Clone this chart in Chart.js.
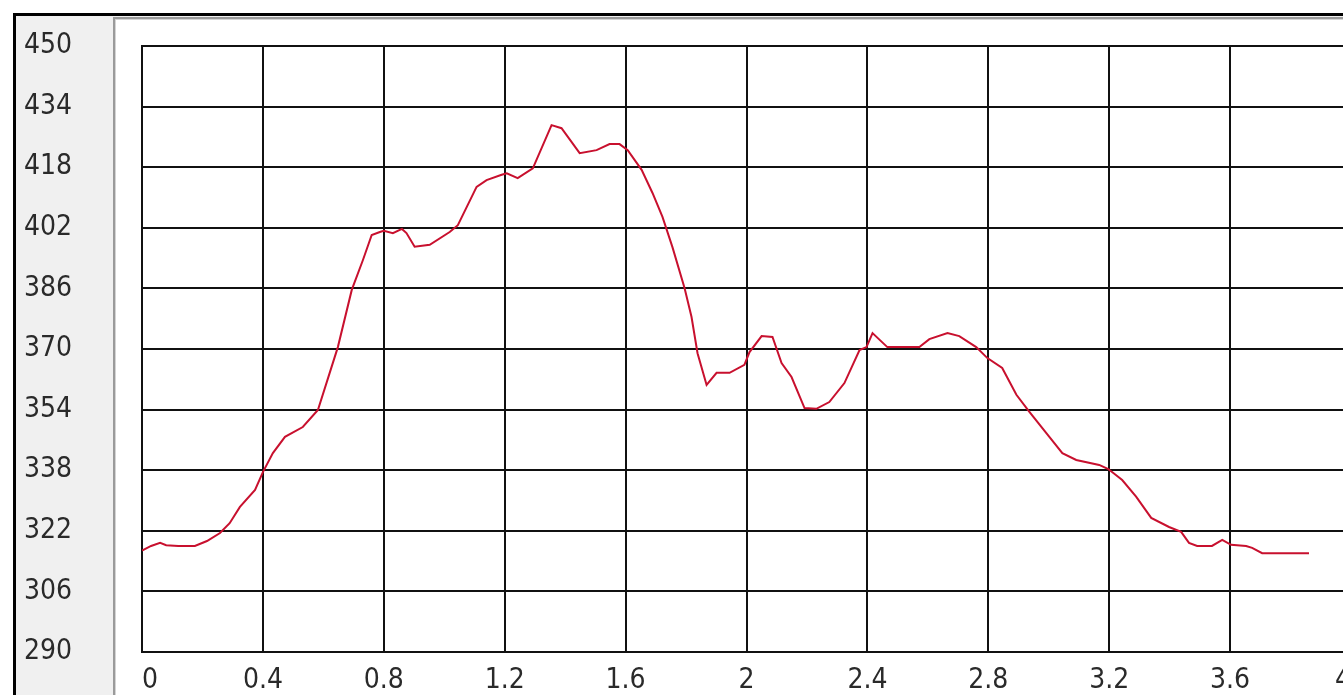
<!DOCTYPE html>
<html>
<head>
<meta charset="utf-8">
<script src="https://cdn.jsdelivr.net/npm/chart.js@4/dist/chart.umd.min.js"></script>
<style>
    html, body {
        margin: 0;
        padding: 0;
        width: 1343px;
        height: 695px;
        overflow: hidden;
        background: #ffffff;
    }
    #marco {
        position: absolute;
        left: 13px;
        top: 13px;
        width: 1400px;
        height: 700px;
        border-left: 3px solid #000;
        border-top: 3px solid #000;
        background: #f0f0f0;
    }
    #panel {
        position: absolute;
        left: 113px;
        top: 17px;
        width: 1300px;
        height: 700px;
        background: #ffffff;
        border-left: 2px solid #9a9a9a;
        border-top: 2px solid #9a9a9a;
        box-shadow: inset 1px 1px 0 #d4d4d4;
    }
    #grafica {
        position: absolute;
        left: 0;
        top: 0;
    }
</style>
</head>
<body>
<div id="marco"></div>
<div id="panel"></div>
<canvas id="grafica" width="1366" height="695"></canvas>

<script>
    // puntos
    var posX = [0, 0.03, 0.06, 0.08, 0.12, 0.175, 0.215, 0.258, 0.29, 0.324,
        0.374, 0.40, 0.433, 0.473, 0.532, 0.582, 0.621, 0.648, 0.694, 0.731,
        0.76, 0.787, 0.80, 0.83, 0.86, 0.875, 0.902, 0.952, 1.018, 1.045,
        1.107, 1.14, 1.19, 1.207, 1.243, 1.293, 1.355, 1.388, 1.448, 1.504,
        1.547, 1.58, 1.607, 1.653, 1.689, 1.722, 1.755, 1.795, 1.818, 1.838,
        1.868, 1.901, 1.944, 1.993, 2.01, 2.05, 2.086, 2.116, 2.149, 2.192,
        2.231, 2.274, 2.324, 2.374, 2.397, 2.417, 2.466, 2.572, 2.605, 2.665,
        2.704, 2.76, 2.797, 2.846, 2.893, 2.936, 3.002, 3.045, 3.091, 3.167,
        3.197, 3.243, 3.289, 3.339, 3.398, 3.438, 3.464, 3.491, 3.54, 3.574,
        3.603, 3.653, 3.673, 3.706, 3.745, 3.861];
    var valores = [316.8, 318.0, 318.8, 318.2, 318.0, 318.0, 319.3, 321.4, 324.0, 328.3,
        332.8, 337.5, 342.5, 346.8, 349.4, 353.9, 363.7, 370.5, 385.6, 393.5,
        400.1, 400.9, 401.2, 400.6, 401.7, 400.6, 397.0, 397.5, 400.9, 402.7,
        412.8, 414.6, 416.0, 416.4, 415.1, 417.7, 429.1, 428.3, 421.7, 422.5,
        424.1, 424.1, 422.5, 417.3, 411.2, 404.9, 396.9, 386.1, 378.5, 368.9,
        360.5, 363.7, 363.7, 365.8, 369.2, 373.4, 373.2, 366.3, 362.6, 354.4,
        354.2, 356.0, 361.0, 369.7, 370.5, 374.2, 370.5, 370.5, 372.6, 374.2,
        373.4, 370.5, 367.6, 365.0, 357.9, 353.4, 346.8, 342.5, 340.7, 339.4,
        338.3, 335.4, 331.0, 325.4, 323.0, 321.7, 318.8, 318.0, 318.0, 319.6,
        318.3, 318.0, 317.5, 316.1, 316.1, 316.1];

    // el primero y el ultimo van corridos hacia adentro, como en el original
    var etiquetasX = ['\u20070', '0.4', '0.8', '1.2', '1.6', '2', '2.4', '2.8', '3.2', '3.6', '4\u2007'];
    var etiquetasY = ['290', '306', '322', '338', '354', '370', '386', '402', '418', '434', '450'];

    var fuente = {
        family: "'Liberation Sans Narrow', 'DejaVu Sans Condensed', 'Liberation Sans', Arial, sans-serif",
        size: 28
    };

    function armarPuntos() {
        var puntos = [];
        for (var i = 0; i < posX.length; i++) {
            puntos.push({x: posX[i], y: valores[i]});
        }
        return puntos;
    }

    var ctx = document.getElementById('grafica');

    var grafica = new Chart(ctx, {
        type: 'line',
        data: {
            datasets: [{
                data: armarPuntos(),
                borderColor: '#c8102e',
                borderWidth: 2,
                pointRadius: 0,
                tension: 0,
                fill: false
            }]
        },
        options: {
            responsive: false,
            animation: false,
            devicePixelRatio: 1,
            layout: {
                padding: {top: 46, right: 15, bottom: 0, left: 0}
            },
            plugins: {
                legend: {display: false},
                tooltip: {enabled: false}
            },
            scales: {
                x: {
                    type: 'linear',
                    min: 0,
                    max: 4,
                    grid: {color: '#111', lineWidth: 2, drawTicks: false},
                    border: {color: '#111', width: 2},
                    ticks: {
                        stepSize: 0.4,
                        autoSkip: false,
                        maxRotation: 0,
                        padding: 12,
                        color: '#2a2a2a',
                        font: fuente,
                        callback: function (valor, indice) {
                            return etiquetasX[indice];
                        }
                    },
                    afterFit: function (escala) {
                        // el eje x ocupa lo que queda bajo la grilla
                        escala.height = 695 - 652;
                        escala.paddingLeft = 0;
                        escala.paddingRight = 0;
                    }
                },
                y: {
                    min: 290,
                    max: 450,
                    grid: {color: '#111', lineWidth: 2, drawTicks: false},
                    border: {color: '#111', width: 2},
                    ticks: {
                        stepSize: 16,
                        autoSkip: false,
                        padding: 70,
                        color: '#2a2a2a',
                        font: fuente,
                        callback: function (valor, indice) {
                            return etiquetasY[indice];
                        }
                    },
                    afterFit: function (escala) {
                        escala.width = 142;
                        escala.paddingTop = 0;
                        escala.paddingBottom = 0;
                    }
                }
            }
        }
    });
</script>
</body>
</html>
